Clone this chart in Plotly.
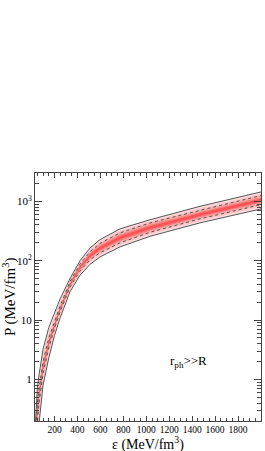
import plotly.graph_objects as go
import numpy as np

# energy density grid (MeV/fm^3)
eps = [35, 50, 65, 100, 150, 200, 250, 335, 422, 510, 597, 771, 1033, 1468, 2000]
# outer (solid) boundaries
p_upper = [0.2, 0.7, 1.2, 3.2, 7.5, 13.5, 23, 50, 100, 164, 227, 344, 490, 824, 1440]
p_lower = [0.05, 0.1, 0.2, 0.8, 2.3, 5.5, 11, 30, 57, 87, 116, 171, 258, 434, 745]
# inner (dotted) boundaries
p_dot_upper = [0.13, 0.4, 0.7, 2.0, 5.0, 9.6, 17.5, 44, 88, 142, 196, 295, 434, 705, 1250]
p_dot_lower = [0.08, 0.22, 0.4, 1.25, 3.4, 7.2, 14, 36, 67, 104, 136, 200, 301, 506, 880]

x_ticks = [200, 400, 600, 800, 1000, 1200, 1400, 1600, 1800]
y_ticks = [1, 10, 100, 1000]
y_ticktext = ["1", "10", "10<sup>2</sup>", "10<sup>3</sup>"]

lu, ll = np.log10(p_upper), np.log10(p_lower)
du, dl = np.log10(p_dot_upper), np.log10(p_dot_lower)
center = (du + dl) / 2

fig = go.Figure()

def band(up, lo, color):
    fig.add_trace(go.Scatter(x=eps, y=list(10 ** lo), mode="lines", line=dict(width=0),
                             showlegend=False, hoverinfo="skip"))
    fig.add_trace(go.Scatter(x=eps, y=list(10 ** up), mode="lines", line=dict(width=0),
                             fill="tonexty", fillcolor=color, showlegend=False, hoverinfo="skip"))

# gradient layers from the outer edges toward the centre
band(lu, ll, "rgb(252,222,222)")
band(lu * 0.5 + du * 0.5, ll * 0.5 + dl * 0.5, "rgb(250,198,198)")
band(du, dl, "rgb(249,165,165)")
band(du * 0.6 + center * 0.4, dl * 0.6 + center * 0.4, "rgb(248,125,125)")
band(du * 0.3 + center * 0.7, dl * 0.3 + center * 0.7, "rgb(247,85,85)")

line_col = "#555555"
for arr in (p_upper, p_lower):
    fig.add_trace(go.Scatter(x=eps, y=arr, mode="lines", line=dict(color=line_col, width=1),
                             showlegend=False))
for arr in (p_dot_upper, p_dot_lower):
    fig.add_trace(go.Scatter(x=eps, y=arr, mode="lines",
                             line=dict(color=line_col, width=1, dash="dot"), showlegend=False))

font = "Liberation Serif"
minor_y = [v * m for v in (0.1, 1, 10, 100, 1000) for m in range(2, 10)]

fig.update_layout(
    width=265, height=451,
    margin=dict(l=35, r=4, t=173, b=30, autoexpand=False),
    paper_bgcolor="white", plot_bgcolor="white",
    font=dict(family=font, size=11, color="black"),
    showlegend=False,
    xaxis=dict(range=[30, 2000], tickmode="array", tickvals=x_ticks, tickangle=0,
               automargin=False,
               ticks="inside", ticklen=5, tickcolor="#444", mirror="ticks",
               showline=True, linecolor="#444", linewidth=1, showgrid=False, zeroline=False,
               minor=dict(dtick=50, tick0=0, ticks="inside", ticklen=3, tickcolor="#444", showgrid=False),
               tickfont=dict(family=font, size=9.5)),
    yaxis=dict(type="log", range=[np.log10(0.2), np.log10(3000)], tickmode="array",
               tickvals=y_ticks, ticktext=y_ticktext, automargin=False,
               ticks="inside", ticklen=7, tickcolor="#444", mirror="ticks",
               showline=True, linecolor="#444", linewidth=1, showgrid=False, zeroline=False,
               minor=dict(tickmode="array", tickvals=minor_y, ticks="inside", ticklen=4,
                          tickcolor="#444", showgrid=False),
               tickfont=dict(family=font, size=11)),
    annotations=[
        dict(text="r<sub>ph</sub>>>R", x=1364, y=np.log10(2.0), xref="x", yref="y",
             showarrow=False, font=dict(family=font, size=13, color="black")),
        dict(text="ε (MeV/fm<sup>3</sup>)", x=0.5, y=-0.09, xref="paper", yref="paper",
             xanchor="center", yanchor="middle", showarrow=False,
             font=dict(family=font, size=14, color="black")),
        dict(text="P (MeV/fm<sup>3</sup>)", x=-0.115, y=0.5, xref="paper", yref="paper",
             xanchor="center", yanchor="middle", textangle=-90, showarrow=False,
             font=dict(family=font, size=15, color="black")),
    ],
)

fig.write_html("out.html", config={"displayModeBar": False},
               post_script="document.body.style.margin='0px';")
